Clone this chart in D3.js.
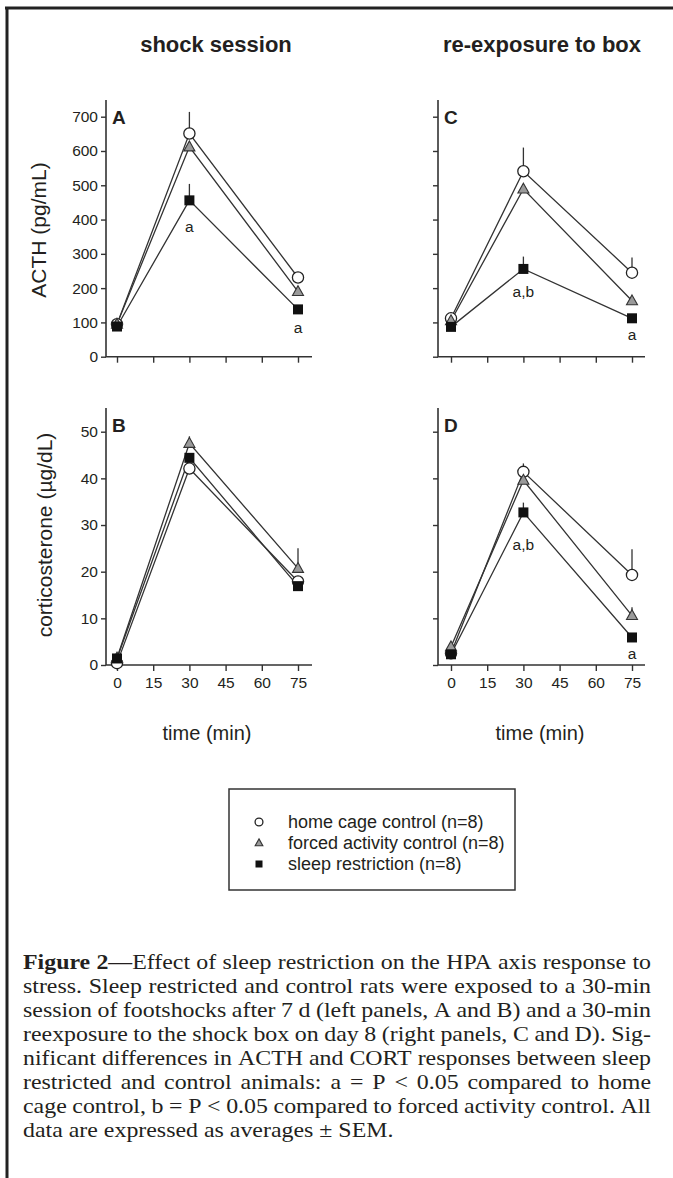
<!DOCTYPE html>
<html>
<head>
<meta charset="utf-8">
<script src="https://cdn.jsdelivr.net/npm/d3@7"></script>
<style>
  html, body { margin: 0; padding: 0; background: #fff; }
  svg { display: block; }
</style>
</head>
<body>
<script>
// ---------------- DATA ----------------
const times = [0, 30, 75];
const xTicks = [0, 15, 30, 45, 60, 75];
const acthTicks = [0, 100, 200, 300, 400, 500, 600, 700];
const cortTicks = [0, 10, 20, 30, 40, 50];

const seriesNames = ["home cage control (n=8)", "forced activity control (n=8)", "sleep restriction (n=8)"];
const columnTitles = ["shock session", "re-exposure to box"];
const panelLetters = ["A", "B", "C", "D"];
const yTitles = ["ACTH (pg/mL)", "corticosterone (\u00b5g/dL)"];
const xTitle = "time (min)";

// Panel A: ACTH, shock session
const acthShockHome = [95, 651, 231];
const acthShockHomeSem = [8, 63, 10];
const acthShockForced = [95, 612, 190];
const acthShockForcedSem = [8, 15, 10];
const acthShockSleep = [88, 456, 138];
const acthShockSleepSem = [6, 48, 10];

// Panel C: ACTH, re-exposure
const acthReHome = [112, 541, 245];
const acthReHomeSem = [10, 69, 44];
const acthReForced = [105, 489, 163];
const acthReForcedSem = [8, 15, 10];
const acthReSleep = [87, 256, 112];
const acthReSleepSem = [6, 36, 10];

// Panel B: corticosterone, shock session
const cortShockHome = [0.4, 42.1, 17.9];
const cortShockHomeSem = [0.3, 1.0, 1.0];
const cortShockForced = [1.5, 47.5, 20.7];
const cortShockForcedSem = [0.5, 1.5, 4.3];
const cortShockSleep = [1.4, 44.4, 16.9];
const cortShockSleepSem = [0.3, 1.0, 0.8];

// Panel D: corticosterone, re-exposure
const cortReHome = [2.5, 41.4, 19.3];
const cortReHomeSem = [0.5, 1.8, 5.5];
const cortReForced = [3.9, 39.6, 10.6];
const cortReForcedSem = [0.5, 1.0, 1.8];
const cortReSleep = [2.3, 32.7, 5.9];
const cortReSleepSem = [0.5, 2.1, 0.8];

// significance labels (time, text)
const sigA = [[30, "a"], [75, "a"]];
const sigB = [];
const sigC = [[30, "a,b"], [75, "a"]];
const sigD = [[30, "a,b"], [75, "a"]];

const captionLines = [
  ["Figure 2", "\u2014Effect of sleep restriction on the HPA axis response to"],
  ["", "stress. Sleep restricted and control rats were exposed to a 30-min"],
  ["", "session of footshocks after 7 d (left panels, A and B) and a 30-min"],
  ["", "reexposure to the shock box on day 8 (right panels, C and D). Sig-"],
  ["", "nificant differences in ACTH and CORT responses between sleep"],
  ["", "restricted and control animals: a = P < 0.05 compared to home"],
  ["", "cage control, b = P < 0.05 compared to forced activity control. All"],
  ["", "data are expressed as averages \u00b1 SEM."]
];

// ---------------- DRAW ----------------
const W = 673, H = 1178;
const ink = "#231f20";
const sans = "'Liberation Sans', Arial, Helvetica, sans-serif";
const serif = "'Liberation Serif', 'Times New Roman', serif";

const svg = d3.select("body").append("svg").attr("width", W).attr("height", H);
svg.append("rect").attr("width", W).attr("height", H).attr("fill", "#fff");

// frame
svg.append("line").attr("x1", 5).attr("x2", W).attr("y1", 8).attr("y2", 8)
  .attr("stroke", "#222").attr("stroke-width", 3);
svg.append("line").attr("x1", 7).attr("x2", 7).attr("y1", 7).attr("y2", H)
  .attr("stroke", "#222").attr("stroke-width", 3);

// column titles
[[216, columnTitles[0]], [542, columnTitles[1]]].forEach(([cx, t]) => {
  svg.append("text").attr("x", cx).attr("y", 52).attr("text-anchor", "middle")
    .attr("font-family", sans).attr("font-weight", "bold").attr("font-size", 22)
    .attr("fill", ink).text(t);
});

const styles = [
  { shape: "circle", fill: "#fff", stroke: "#222" },
  { shape: "triangle", fill: "#9a9a9a", stroke: "#333" },
  { shape: "square", fill: "#111", stroke: "#111" }
];

function drawMarker(g, shape, cx, cy, size, st) {
  if (shape === "circle") {
    g.append("circle").attr("cx", cx).attr("cy", cy).attr("r", size * 0.56)
      .attr("fill", st.fill).attr("stroke", st.stroke).attr("stroke-width", 1.3);
  } else if (shape === "triangle") {
    const h = size * 0.95, w = size * 1.1;
    g.append("path")
      .attr("d", `M${cx},${cy - h * 0.62}L${cx + w / 2},${cy + h * 0.42}L${cx - w / 2},${cy + h * 0.42}Z`)
      .attr("fill", st.fill).attr("stroke", st.stroke).attr("stroke-width", 1.1);
  } else {
    g.append("rect").attr("x", cx - size / 2).attr("y", cy - size / 2)
      .attr("width", size).attr("height", size)
      .attr("fill", st.fill);
  }
}

const panels = [
  { letter: panelLetters[0], axisX: 106, xr: [117, 298], xEnd: 312, yDom: [0, 700], yr: [356.7, 116.7], yTop: 100,
    ticks: acthTicks, yLabels: true, xLabels: false,
    vals: [acthShockHome, acthShockForced, acthShockSleep], sems: [acthShockHomeSem, acthShockForcedSem, acthShockSleepSem],
    sig: sigA, sigDy: [27, 19] },
  { letter: panelLetters[1], axisX: 106, xr: [117, 298], xEnd: 312, yDom: [0, 50], yr: [665, 431.7], yTop: 408,
    ticks: cortTicks, yLabels: true, xLabels: true,
    vals: [cortShockHome, cortShockForced, cortShockSleep], sems: [cortShockHomeSem, cortShockForcedSem, cortShockSleepSem],
    sig: sigB, sigDy: [] },
  { letter: panelLetters[2], axisX: 438, xr: [451, 632], xEnd: 645, yDom: [0, 700], yr: [356.7, 116.7], yTop: 100,
    ticks: acthTicks, yLabels: false, xLabels: false,
    vals: [acthReHome, acthReForced, acthReSleep], sems: [acthReHomeSem, acthReForcedSem, acthReSleepSem],
    sig: sigC, sigDy: [23, 17] },
  { letter: panelLetters[3], axisX: 438, xr: [451, 632], xEnd: 645, yDom: [0, 50], yr: [665, 431.7], yTop: 408,
    ticks: cortTicks, yLabels: false, xLabels: true,
    vals: [cortReHome, cortReForced, cortReSleep], sems: [cortReHomeSem, cortReForcedSem, cortReSleepSem],
    sig: sigD, sigDy: [33, 17] }
];

panels.forEach(p => {
  const x = d3.scaleLinear().domain([0, 75]).range(p.xr);
  const y = d3.scaleLinear().domain(p.yDom).range(p.yr);
  const g = svg.append("g");

  // y axis
  const yAxis = d3.axisLeft(y).tickValues(p.ticks).tickSize(5).tickSizeOuter(0).tickPadding(3)
    .tickFormat(p.yLabels ? d3.format("d") : () => "");
  const ya = g.append("g").attr("transform", `translate(${p.axisX},0)`).call(yAxis);
  ya.select(".domain").remove();
  ya.selectAll("line").attr("stroke", "#333").attr("stroke-width", 1.4);
  ya.selectAll("text").attr("font-family", sans).attr("font-size", 15.5).attr("fill", ink);

  // x axis
  const xAxis = d3.axisBottom(x).tickValues(xTicks).tickSize(6).tickSizeOuter(0).tickPadding(6)
    .tickFormat(p.xLabels ? d3.format("d") : () => "");
  const xa = g.append("g").attr("transform", `translate(0,${y(0)})`).call(xAxis);
  xa.select(".domain").remove();
  xa.selectAll("line").attr("stroke", "#333").attr("stroke-width", 1.4);
  xa.selectAll("text").attr("font-family", sans).attr("font-size", 15.5).attr("fill", ink);

  // axis lines
  g.append("path").attr("d", `M${p.axisX},${p.yTop}V${y(0)}H${p.xEnd}`)
    .attr("fill", "none").attr("stroke", "#333").attr("stroke-width", 1.6);

  // panel letter
  g.append("text").attr("x", p.axisX + 6).attr("y", p.yTop + 24)
    .attr("font-family", sans).attr("font-weight", "bold").attr("font-size", 19)
    .attr("fill", ink).text(p.letter);

  const line = d3.line().x((d, i) => x(times[i])).y(d => y(d));

  // error bars (upward only)
  p.vals.forEach((vals, s) => {
    vals.forEach((v, i) => {
      g.append("line").attr("x1", x(times[i])).attr("x2", x(times[i]))
        .attr("y1", y(v)).attr("y2", y(v + p.sems[s][i]))
        .attr("stroke", "#333").attr("stroke-width", 1.3);
    });
  });
  // lines
  p.vals.forEach(vals => {
    g.append("path").attr("d", line(vals)).attr("fill", "none")
      .attr("stroke", "#333").attr("stroke-width", 1.3);
  });
  // markers
  p.vals.forEach((vals, s) => {
    vals.forEach((v, i) => drawMarker(g, styles[s].shape, x(times[i]), y(v), 10, styles[s]));
  });

  // significance labels, below sleep-restriction marker
  p.sig.forEach(([t, txt], k) => {
    const i = times.indexOf(t);
    g.append("text").attr("x", x(t)).attr("y", y(p.vals[2][i]) + p.sigDy[k] + 5)
      .attr("text-anchor", "middle").attr("font-family", sans).attr("font-size", 15.5)
      .attr("fill", ink).text(txt);
  });
});

// y axis titles
[[46, 230, yTitles[0]], [52, 535, yTitles[1]]].forEach(([cx, cy, t]) => {
  svg.append("text").attr("transform", `translate(${cx},${cy}) rotate(-90)`)
    .attr("text-anchor", "middle").attr("font-family", sans).attr("font-size", 21)
    .attr("fill", ink).text(t);
});
// x axis titles
[[207, 740], [540, 740]].forEach(([cx, cy]) => {
  svg.append("text").attr("x", cx).attr("y", cy).attr("text-anchor", "middle")
    .attr("font-family", sans).attr("font-size", 20).attr("fill", ink).text(xTitle);
});

// legend
const lg = svg.append("g");
lg.append("rect").attr("x", 229).attr("y", 789).attr("width", 286).attr("height", 101)
  .attr("fill", "#fff").attr("stroke", "#333").attr("stroke-width", 1.5);
seriesNames.forEach((name, s) => {
  const cy = 822 + s * 21;
  drawMarker(lg, styles[s].shape, 259, cy, 7, styles[s]);
  lg.append("text").attr("x", 288).attr("y", cy + 6).attr("font-family", sans)
    .attr("font-size", 18).attr("fill", ink).text(name);
});

// caption: serif, justified by word gaps
const capFs = 20.5, capLeft = 23, capRight = 651;
const spaceW = capFs * 0.25;
const measure = svg.append("text").attr("font-family", serif).attr("font-size", capFs)
  .attr("x", -1000).attr("y", -1000);
function wordWidth(runs) {
  measure.selectAll("*").remove();
  runs.forEach(r => measure.append("tspan").attr("font-weight", r.bold ? "bold" : null).text(r.t));
  return measure.node().getComputedTextLength();
}
const capData = captionLines.map((ln, li) => {
  const words = [];
  const boldWords = ln[0] ? ln[0].split(" ") : [];
  const restWords = ln[1].split(" ");
  boldWords.forEach(w => words.push([{ t: w, bold: true }]));
  if (boldWords.length) words[words.length - 1].push({ t: restWords.shift(), bold: false });
  restWords.forEach(w => words.push([{ t: w, bold: false }]));
  const widths = words.map(wordWidth);
  return { words, widths, total: d3.sum(widths), last: li === captionLines.length - 1 };
});
// horizontal scale so that justified lines keep near-natural word spacing
const ratios = capData.filter(d => !d.last)
  .map(d => (capRight - capLeft) / (d.total + (d.words.length - 1) * spaceW));
const capSx = Math.max(0.8, Math.min(1.2, d3.median(ratios)));
const target = (capRight - capLeft) / capSx;
capData.forEach((d, li) => {
  const gap = d.last ? spaceW : (target - d.total) / (d.words.length - 1);
  const g = svg.append("g").attr("transform", `translate(${capLeft},${969 + li * 24}) scale(${capSx},1)`);
  const t = g.append("text").attr("font-family", serif).attr("font-size", capFs).attr("fill", ink);
  let xPos = 0;
  d.words.forEach((runs, wi) => {
    runs.forEach((r, ri) => {
      const ts = t.append("tspan").attr("font-weight", r.bold ? "bold" : null).text(r.t);
      if (ri === 0) ts.attr("x", xPos).attr("y", 0);
    });
    xPos += d.widths[wi] + gap;
  });
});
measure.remove();
</script>
</body>
</html>
